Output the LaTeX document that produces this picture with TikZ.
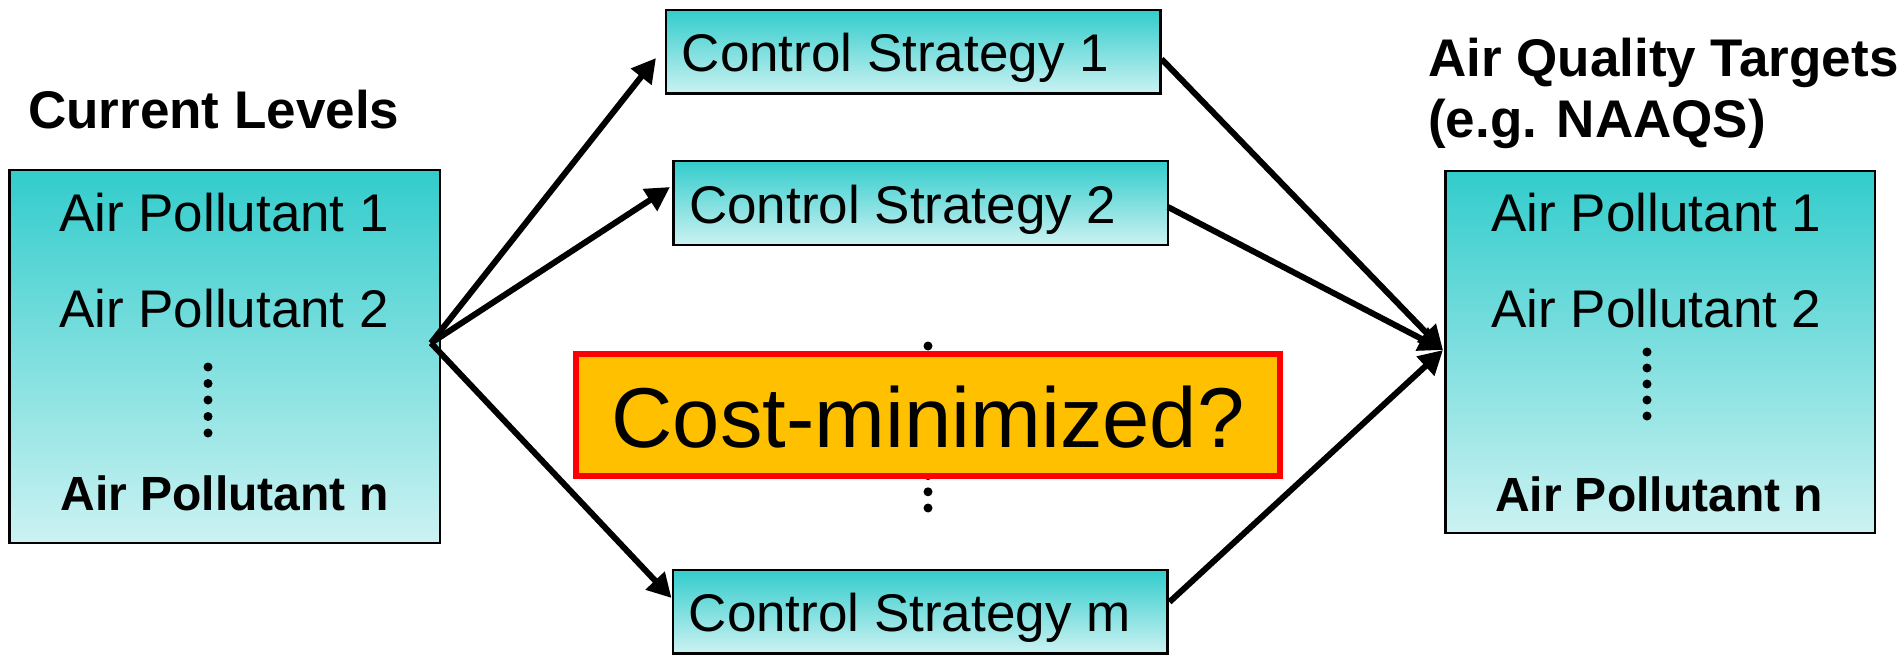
\documentclass[tikz,border=0pt]{standalone}
\usepackage{fontspec}
\setmainfont{Liberation Sans}
\usetikzlibrary{arrows.meta,calc}
\definecolor{tealtop}{RGB}{51,204,204}
\definecolor{tealbot}{RGB}{204,242,242}
\definecolor{costfill}{RGB}{255,192,0}
\definecolor{costrim}{RGB}{255,0,0}

\begin{document}
\begin{tikzpicture}[x=1pt,y=-1pt,
  tealbox/.style={draw=black,line width=2.5pt,top color=tealtop,bottom color=tealbot,inner sep=0pt},
  listbox/.style={tealbox,minimum width=430.5pt,minimum height=372.5pt},
  stratbox/.style={tealbox,minimum width=494.5pt,minimum height=83.5pt,inner xsep=16pt,inner ysep=0pt,
    text height=40pt,text depth=0pt,font=\fontsize{53}{60}\selectfont},
  itemtxt/.style={anchor=base,inner sep=0pt,font=\fontsize{53}{60}\selectfont},
  lastitem/.style={anchor=base,inner sep=0pt,font=\fontsize{48}{56}\selectfont\bfseries},
  heading/.style={anchor=base west,inner sep=0pt,font=\fontsize{53}{60}\selectfont\bfseries},
  flow/.style={line width=6pt,-{Triangle[length=24pt,width=25pt]}},
  elldot/.style={circle,fill=black,inner sep=0pt,minimum size=9pt},
]
\useasboundingbox (0,0) rectangle (1903,655);

% headings
\node[heading] (hcur) at (28,129) {Current Levels};
\node[heading] (htgt1) at (1428,77) {Air Quality Targets};
\node[heading] (htgt2) at (1428,138) {(e.g. NAAQS)};

% current pollutant levels
\node[listbox] (lt) at (224.5,356.5) {};
\node[itemtxt] (l1) at (224,232) {Air Pollutant 1};
\node[itemtxt] (l2) at (224,327) {Air Pollutant 2};
\foreach \k in {0,...,4} \node[elldot] (ldot\k) at (208,367+16.5*\k) {};
\node[lastitem] (ln) at (224.5,510) {Air Pollutant n};

% target levels
\node[listbox,minimum width=429.5pt,minimum height=361.5pt] (rt) at (1660,352) {};
\node[itemtxt] (r1) at (1656.5,232) {Air Pollutant 1};
\node[itemtxt] (r2) at (1656.5,327) {Air Pollutant 2};
\foreach \k in {0,...,4} \node[elldot] (rdot\k) at (1647,352+16*\k) {};
\node[lastitem] (rn) at (1659,511) {Air Pollutant n};

% control strategies
\node[stratbox] (cs1) at (913,52) {\makebox[462.5pt][l]{Control Strategy 1}};
\node[stratbox] (cs2) at (920.5,203) {\makebox[462.5pt][l]{Control Strategy 2}};
\node[stratbox] (csm) at (920,611.5) {\makebox[462.5pt][l]{Control Strategy m}};

% vertical ellipsis between strategies, partly hidden by the question box
\foreach \k in {0,...,10} \node[elldot] (mdot\k) at (928,346+16.2*\k) {};

\node[draw=costrim,line width=6pt,fill=costfill,minimum width=704pt,minimum height=122pt,
  inner sep=0pt,text height=64pt,text depth=0pt,font=\fontsize{85}{96}\selectfont]
  (cost) at (928,415) {Cost-minimized?};

% flows
\coordinate (src) at ($(lt.east)+(-10,-13.5)$);
\draw[flow] (src) -- ($(cs1.west)+(-8.5,6)$);
\draw[flow] (src) -- ($(cs2.west)+(-2,-16)$);
\draw[flow] (src) -- ($(csm.west)+(0,-13.5)$);
\draw[flow] ($(cs1.east)+(0,7)$) -- ($(rt.west)+(-1,-2)$);
\draw[flow] ($(cs2.east)+(-1,4)$) -- ($(rt.west)+(-1,-2)$);
\draw[flow] ($(csm.east)+(1,-9.5)$) -- ($(rt.west)+(-1,-2)$);
\end{tikzpicture}
\end{document}
